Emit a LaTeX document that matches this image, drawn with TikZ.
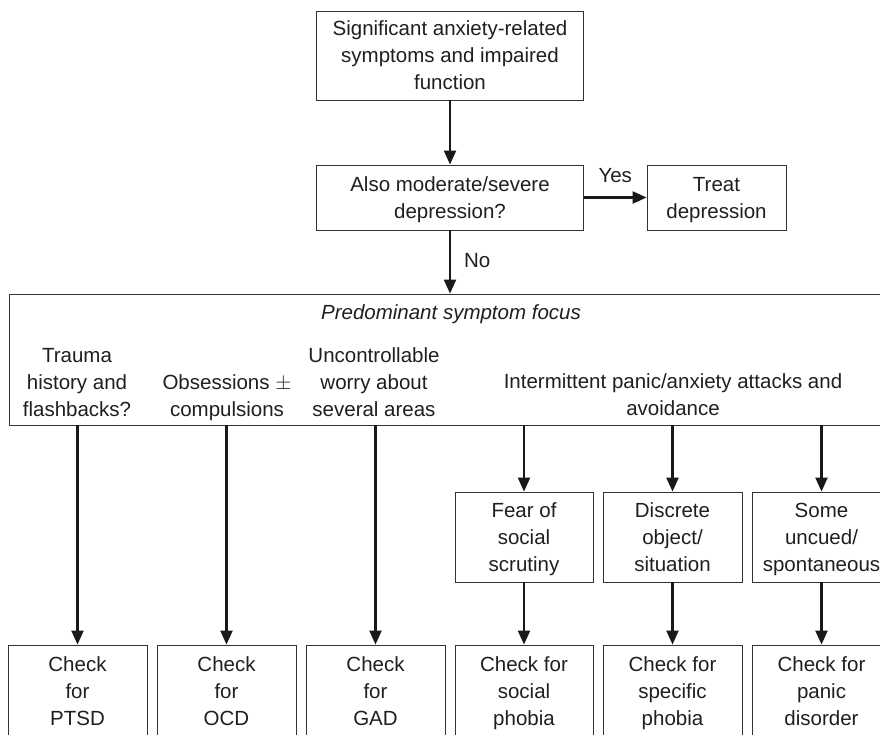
\documentclass[tikz,border=0pt]{standalone}
\usepackage{fontspec}
\setmainfont{Liberation Sans}
\usetikzlibrary{arrows.meta}
\begin{document}
\begin{tikzpicture}[x=1pt,y=-1pt,
  every node/.style={font=\fontsize{20.5}{27}\selectfont, text=black!88, align=center, inner sep=0pt,
    execute at begin node=\rule{0pt}{23pt}, execute at end node=\strut},
  two/.style={execute at begin node=\rule{0pt}{50pt}},
  three/.style={execute at begin node=\rule{0pt}{77pt}},
  box/.style={draw=black!80, line width=0.9pt, rectangle},
  arr/.style={line width=2.3pt, draw=black!90, -{Triangle[length=14pt,width=12pt]}}]
\useasboundingbox (0,0) rectangle (880,735);
\clip (0,0) rectangle (880,735);
% top
\node[box, three, minimum width=267pt, minimum height=89pt] (top) at (450,55.5)
  {Significant anxiety-related\\symptoms and impaired\\function};
\node[box, two, minimum width=267pt, minimum height=65pt] (dep) at (450,197.5)
  {Also moderate/severe\\depression?};
\node[box, two, minimum width=139pt, minimum height=65pt] (treat) at (716.5,197.5)
  {Treat\\depression};
% big box
\node[box, minimum width=890pt, minimum height=131pt] (focus) at (454,359.5) {};
\node (title) at (451,312) {\itshape Predominant symptom focus};
\node[three] (trauma) at (77,382) {Trauma\\history and\\flashbacks?};
\node[two] (obs) at (227,395.5) {Obsessions $\pm$\\compulsions};
\node[three] (worry) at (374,382) {Uncontrollable\\worry about\\several areas};
\node[two] (panic) at (673,395) {Intermittent panic/anxiety attacks and\\avoidance};
% middle boxes
\node[box, three, minimum width=138pt, minimum height=90pt] (social) at (524,537) {Fear of\\social\\scrutiny};
\node[box, three, minimum width=139pt, minimum height=90pt] (discrete) at (672.5,537) {Discrete\\object/\\situation};
\node[box, three, minimum width=139pt, minimum height=90pt] (uncued) at (821.5,537) {Some\\uncued/\\spontaneous};
% bottom boxes
\node[box, three, minimum width=139pt, minimum height=92pt] (ptsd) at (77.5,691) {Check\\for\\PTSD};
\node[box, three, minimum width=139pt, minimum height=92pt] (ocd) at (226.5,691) {Check\\for\\OCD};
\node[box, three, minimum width=139pt, minimum height=92pt] (gad) at (375.5,691) {Check\\for\\GAD};
\node[box, three, minimum width=138pt, minimum height=92pt] (csoc) at (524,691) {Check for\\social\\phobia};
\node[box, three, minimum width=139pt, minimum height=92pt] (cspec) at (672.5,691) {Check for\\specific\\phobia};
\node[box, three, minimum width=139pt, minimum height=92pt] (cpan) at (821.5,691) {Check for\\panic\\disorder};
% connectors
\draw[arr] (top) -- (dep);
\draw[arr] (dep) -- node[above=6pt] (yes) {Yes} (treat);
\draw[arr] (dep) -- node[right=13pt, yshift=2pt] (no) {No} (focus.north -| dep.south);
\draw[arr] (ptsd.north |- focus.south) -- (ptsd);
\draw[arr] (ocd.north |- focus.south) -- (ocd);
\draw[arr] (gad.north |- focus.south) -- (gad);
\draw[arr] (social.north |- focus.south) -- (social);
\draw[arr] (discrete.north |- focus.south) -- (discrete);
\draw[arr] (uncued.north |- focus.south) -- (uncued);
\draw[arr] (social) -- (csoc);
\draw[arr] (discrete) -- (cspec);
\draw[arr] (uncued) -- (cpan);
\end{tikzpicture}
\end{document}
